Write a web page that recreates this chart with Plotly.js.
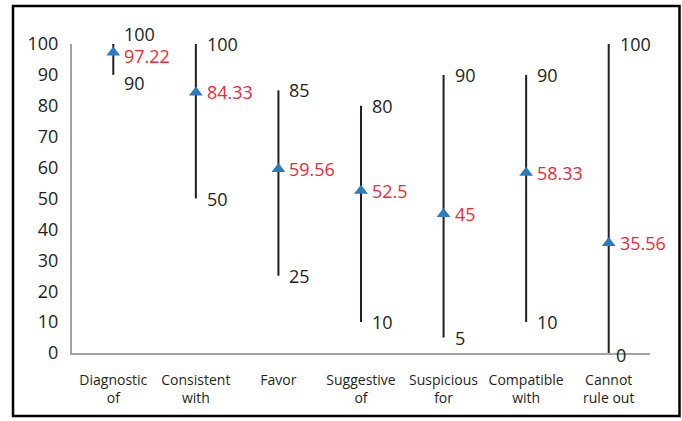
<!DOCTYPE html>
<html>
<head>
<meta charset="utf-8">
<script src="https://cdn.plot.ly/plotly-3.0.1.min.js"></script>
<style>
  html, body { margin: 0; padding: 0; background: #fff; }
  #chart { width: 682px; height: 421px; }
</style>
</head>
<body>
<div id="chart"></div>
<script>
// ---- data ----
const categories = ["Diagnostic<br>of", "Consistent<br>with", "Favor", "Suggestive<br>of", "Suspicious<br>for", "Compatible<br>with", "Cannot<br>rule out"];
const meanValues = [97.22, 84.33, 59.56, 52.5, 45, 58.33, 35.56];
const maxValues = [100, 100, 85, 80, 90, 90, 100];
const minValues = [90, 50, 25, 10, 5, 10, 0];
const yTickValues = [0, 10, 20, 30, 40, 50, 60, 70, 80, 90, 100];

// ---- styling ----
const FONT = "'Open Sans', 'Noto Sans', sans-serif";
const TEXT_DARK = "#231f20";
const RED = "#ed2a36";
const BLUE = "#2b7bbf";
const AXIS_GRAY = "#a3a3a3";

const W = 682, H = 421;
const M = { l: 72, r: 32, t: 44, b: 68 };
const PW = W - M.l - M.r, PH = H - M.t - M.b;
const px2paperX = p => (p - M.l) / PW;
const px2paperY = p => (H - M.b - p) / PH;

const trace = {
  type: "scatter",
  mode: "markers",
  x: categories,
  y: meanValues,
  marker: { symbol: "triangle-up", size: 12, color: BLUE },
  error_y: {
    type: "data",
    symmetric: false,
    array: maxValues.map((v, i) => v - meanValues[i]),
    arrayminus: minValues.map((v, i) => meanValues[i] - v),
    width: 0,
    thickness: 2,
    color: TEXT_DARK
  },
  hoverinfo: "skip",
  showlegend: false
};

const annotations = [];
categories.forEach((c, i) => {
  const crowded = (maxValues[i] - minValues[i]) < 15;
  const base = {
    xref: "x", yref: "y", x: i, xanchor: "left", yanchor: "middle",
    showarrow: false, xshift: 9
  };
  annotations.push(Object.assign({}, base, {
    y: maxValues[i], text: String(maxValues[i]),
    yshift: crowded ? 10 : 0,
    font: { family: FONT, size: 18, color: TEXT_DARK }
  }));
  annotations.push(Object.assign({}, base, {
    y: minValues[i], text: String(minValues[i]),
    yshift: crowded ? -8 : (minValues[i] === 0 ? -2 : 0),
    xshift: minValues[i] === 0 ? 5 : 9,
    font: { family: FONT, size: 18, color: TEXT_DARK }
  }));
  annotations.push(Object.assign({}, base, {
    y: meanValues[i], text: String(meanValues[i]),
    yshift: crowded ? -3 : 0,
    font: { family: FONT, size: 18, color: RED }
  }));
});

const layout = {
  width: W, height: H,
  margin: M,
  paper_bgcolor: "#fff",
  plot_bgcolor: "#fff",
  font: { family: FONT, color: TEXT_DARK },
  xaxis: {
    type: "category",
    range: [-0.5, categories.length - 0.5],
    showgrid: false, zeroline: false,
    showline: true, linecolor: AXIS_GRAY, linewidth: 2,
    ticks: "", ticklabelstandoff: 13,
    tickfont: { family: FONT, size: 14, color: TEXT_DARK },
    fixedrange: true
  },
  yaxis: {
    range: [0, 100],
    tickvals: yTickValues,
    ticktext: yTickValues.map(String),
    showgrid: false, zeroline: false,
    showline: true, linecolor: AXIS_GRAY, linewidth: 2,
    ticks: "", ticklabelstandoff: 8,
    tickfont: { family: FONT, size: 18, color: TEXT_DARK },
    fixedrange: true
  },
  annotations: annotations,
  shapes: [{
    type: "rect", xref: "paper", yref: "paper",
    x0: px2paperX(13), x1: px2paperX(679.5),
    y0: px2paperY(416), y1: px2paperY(6),
    line: { color: "#000", width: 2.5 },
    fillcolor: "rgba(0,0,0,0)", layer: "above"
  }]
};

Plotly.newPlot("chart", [trace], layout, { displayModeBar: false, staticPlot: true });
</script>
</body>
</html>
